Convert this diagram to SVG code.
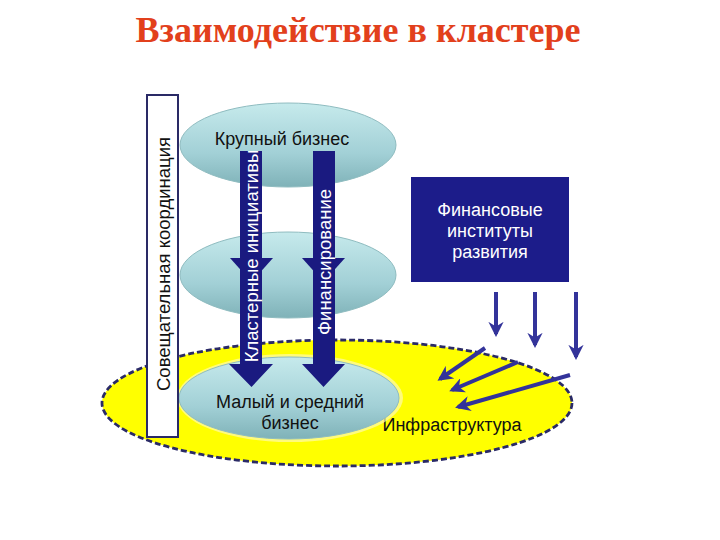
<svg xmlns="http://www.w3.org/2000/svg" width="720" height="540" viewBox="0 0 720 540">
<defs>
<linearGradient id="teal" x1="0" y1="0" x2="0" y2="1">
<stop offset="0" stop-color="#c6eaec"/>
<stop offset="0.6" stop-color="#a2d0d6"/>
<stop offset="1" stop-color="#7fb2b8"/>
</linearGradient>
<marker id="ah" viewBox="0 0 10 10" refX="8" refY="5" markerWidth="3.8" markerHeight="3.8" orient="auto" markerUnits="strokeWidth">
<path d="M0,0 L10,5 L0,10 L3,5 Z" fill="#33339a"/>
</marker>
<style>
.t{font-family:"Liberation Sans",Arial,sans-serif;font-size:18px;fill:#111}
.w{font-family:"Liberation Sans",Arial,sans-serif;font-size:18px;fill:#fff}
.v{font-size:18.5px}
.ell{fill:url(#teal);stroke:#8fbcc0;stroke-width:1}
.big{fill:#1a1a80}
.thin{stroke:#33339a;stroke-width:4;fill:none;marker-end:url(#ah)}
</style>
</defs>
<rect width="720" height="540" fill="#fff"/>
<text x="358" y="42" text-anchor="middle" font-family="'Liberation Serif','Times New Roman',serif" font-weight="bold" font-size="36" fill="#e2401c">Взаимодействие в кластере</text>

<g id="infrastructure">
<ellipse cx="337" cy="403" rx="235" ry="63" fill="#ffff00" stroke="#2a2a66" stroke-width="2.8" stroke-dasharray="6 3"/>
<text class="t" x="452" y="431" text-anchor="middle">Инфраструктура</text>
</g>

<g id="large-business">
<ellipse class="ell" cx="288" cy="145" rx="108" ry="42"/>
<text class="t" x="282" y="145" text-anchor="middle">Крупный бизнес</text>
</g>

<g id="middle-level">
<ellipse class="ell" cx="288" cy="275" rx="108" ry="43"/>
</g>

<g id="small-medium-business">
<ellipse cx="290" cy="398" rx="113" ry="44" fill="#fff9b0" opacity="0.7"/>
<ellipse class="ell" cx="289" cy="398" rx="110" ry="41"/>
<text class="t" x="290" y="408" text-anchor="middle">Малый и средний</text>
<text class="t" x="290" y="429" text-anchor="middle">бизнес</text>
</g>

<g id="coordination">
<rect x="147" y="95" width="31" height="342" fill="#fff" stroke="#2a2a66" stroke-width="2"/>
<text class="t v" transform="translate(169.5,264) rotate(-90)" text-anchor="middle">Совещательная координация</text>
</g>

<g id="financial-institutes">
<rect x="411" y="177" width="158" height="105" fill="#1c1c8a"/>
<text class="w" x="490" y="216" text-anchor="middle">Финансовые</text>
<text class="w" x="490" y="237" text-anchor="middle">институты</text>
<text class="w" x="490" y="258" text-anchor="middle">развития</text>
</g>

<g id="connectors">
<g id="cluster-initiatives">
<polygon class="big" points="230,258 273,258 251.5,282"/>
<polygon class="big" points="240,151 262,151 262,364 273,364 251.5,387 229,364 240,364"/>
<text class="w v" transform="translate(257.5,256) rotate(-90)" text-anchor="middle">Кластерные инициативы</text>
</g>
<g id="financing">
<polygon class="big" points="302,258 345,258 323.5,282"/>
<polygon class="big" points="313,151 335,151 335,364 345,364 323.5,387 302,364 313,364"/>
<text class="w v" transform="translate(330.5,262) rotate(-90)" text-anchor="middle">Финансирование</text>
</g>
<path class="thin" d="M496,292 V334"/>
<path class="thin" d="M535,292 V345"/>
<path class="thin" d="M576,292 V357"/>
<path class="thin" d="M485,348 L440,379"/>
<path class="thin" d="M518,362 L452,390"/>
<path class="thin" d="M570,375 L458,407"/>
</g>
</svg>
